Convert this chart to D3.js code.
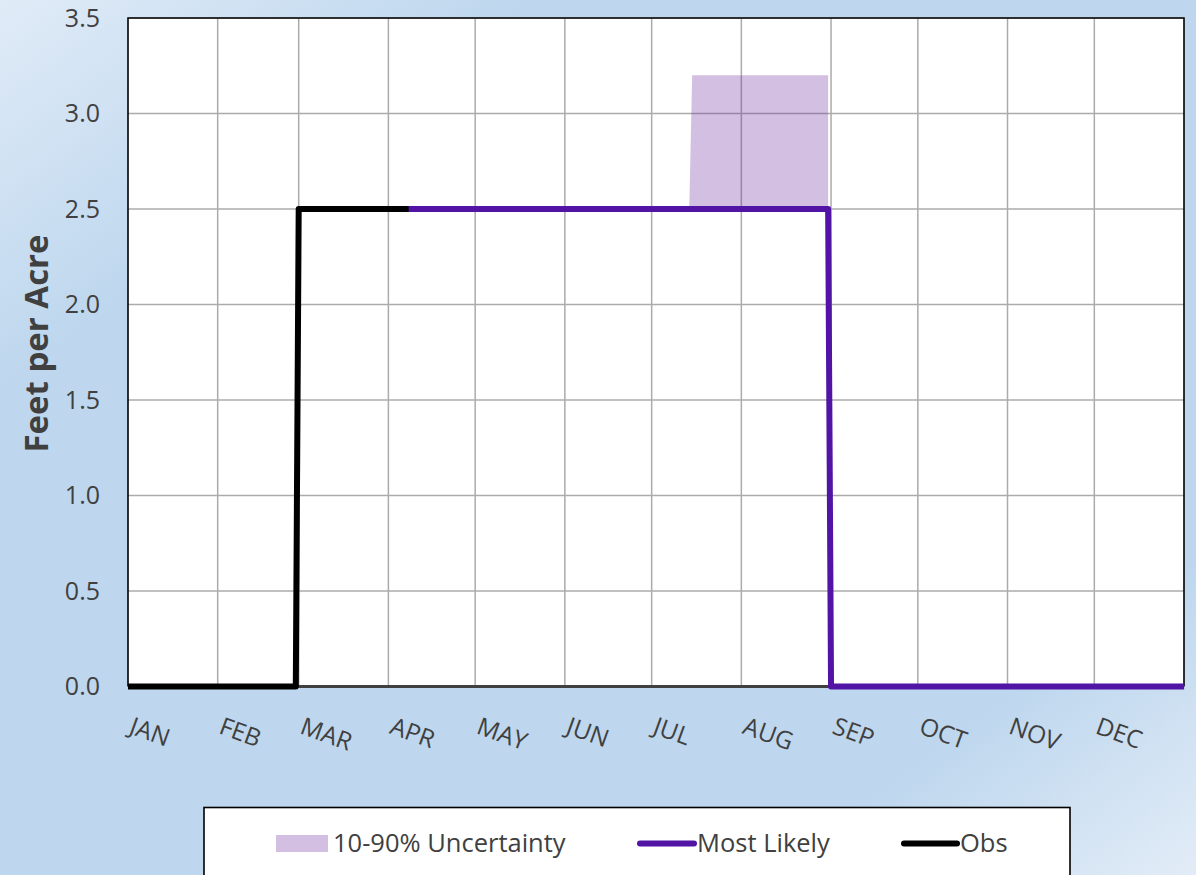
<!DOCTYPE html>
<html>
<head>
<meta charset="utf-8">
<script src="https://cdn.jsdelivr.net/npm/d3@7"></script>
<style>
  html, body { margin: 0; padding: 0; }
  body { width: 1196px; height: 875px; overflow: hidden; }
  text { font-family: "Open Sans", "Noto Sans", sans-serif; }
</style>
</head>
<body>
<svg id="chart" width="1196" height="875"></svg>
<script>
// ---- Data ----
const monthLabels = ["JAN","FEB","MAR","APR","MAY","JUN","JUL","AUG","SEP","OCT","NOV","DEC"];
const yTicks = [0, 0.5, 1.0, 1.5, 2.0, 2.5, 3.0, 3.5];

const bandDates = ["2023-07-14", "2023-07-15", "2023-08-31"];
const bandLow   = [2.5, 2.5, 2.5];
const bandHigh  = [2.5, 3.2, 3.2];

const likelyDates  = ["2023-04-08", "2023-08-31", "2023-09-01", "2023-12-31"];
const likelyValues = [2.5, 2.5, 0, 0];

const obsDates  = ["2023-01-01", "2023-02-28", "2023-03-01", "2023-04-08"];
const obsValues = [0, 0, 2.5, 2.5];

const legendItems = ["10-90% Uncertainty", "Most Likely", "Obs"];

// ---- Setup ----
const parse = d3.timeParse("%Y-%m-%d");
const W = 1196, H = 875;
const plot = { left: 128, right: 1184, top: 18, bottom: 686.5 };
const svg = d3.select("#chart");

// background gradient
const defs = svg.append("defs");
const bg = defs.append("linearGradient").attr("id", "bg")
  .attr("x1", "0%").attr("y1", "0%").attr("x2", "100%").attr("y2", "100%");
bg.append("stop").attr("offset", "0%").attr("stop-color", "#e0ebf7");
bg.append("stop").attr("offset", "22%").attr("stop-color", "#bed7ee");
bg.append("stop").attr("offset", "82%").attr("stop-color", "#bed7ee");
bg.append("stop").attr("offset", "100%").attr("stop-color", "#e2ecf7");
svg.append("rect").attr("width", W).attr("height", H).attr("fill", "url(#bg)");

const x = d3.scaleTime()
  .domain([parse("2023-01-01"), parse("2024-01-01")])
  .range([plot.left, plot.right]);
const y = d3.scaleLinear().domain([0, 3.5]).range([plot.bottom, plot.top]);

// plot area
svg.append("rect")
  .attr("x", plot.left).attr("y", plot.top)
  .attr("width", plot.right - plot.left).attr("height", plot.bottom - plot.top)
  .attr("fill", "#ffffff");

const monthStarts = d3.timeMonth.range(parse("2023-01-01"), parse("2024-01-01"));

// gridlines
const grid = svg.append("g");
grid.selectAll("line.v").data(monthStarts.slice(1)).join("line")
  .attr("x1", d => x(d)).attr("x2", d => x(d))
  .attr("y1", plot.top).attr("y2", plot.bottom)
  .attr("stroke", "#ababab").attr("stroke-width", 1.5);
grid.selectAll("line.h").data(yTicks.slice(1)).join("line")
  .attr("x1", plot.left).attr("x2", plot.right)
  .attr("y1", d => y(d)).attr("y2", d => y(d))
  .attr("stroke", "#ababab").attr("stroke-width", 1.5);

// border (top, left, right)
svg.append("path")
  .attr("d", `M${plot.left},${plot.bottom} V${plot.top} H${plot.right} V${plot.bottom}`)
  .attr("fill", "none").attr("stroke", "#000").attr("stroke-width", 1.6);

// x axis line
svg.append("line")
  .attr("x1", plot.left).attr("x2", plot.right)
  .attr("y1", y(0)).attr("y2", y(0))
  .attr("stroke", "#404040").attr("stroke-width", 3);

// band
const bandData = bandDates.map((d, i) => ({ date: parse(d), lo: bandLow[i], hi: bandHigh[i] }));
svg.append("path").datum(bandData)
  .attr("d", d3.area().x(d => x(d.date)).y0(d => y(d.lo)).y1(d => y(d.hi)))
  .attr("fill", "#7030a0").attr("fill-opacity", 0.31);

// lines
const lineGen = d3.line().x(d => x(d.date)).y(d => y(d.v));
const likelyData = likelyDates.map((d, i) => ({ date: parse(d), v: likelyValues[i] }));
const obsData = obsDates.map((d, i) => ({ date: parse(d), v: obsValues[i] }));
svg.append("path").datum(likelyData).attr("d", lineGen)
  .attr("fill", "none").attr("stroke", "#5114a5").attr("stroke-width", 6)
  .attr("stroke-linejoin", "round").attr("stroke-linecap", "square");
svg.append("path").datum(obsData).attr("d", lineGen)
  .attr("fill", "none").attr("stroke", "#000000").attr("stroke-width", 6)
  .attr("stroke-linejoin", "round").attr("stroke-linecap", "butt");

// y axis labels
const yAxis = d3.axisLeft(y).tickValues(yTicks).tickFormat(d3.format(".1f")).tickSize(0).tickPadding(28);
const gy = svg.append("g").attr("transform", `translate(${plot.left},0)`).call(yAxis);
gy.select(".domain").remove();
gy.selectAll("text").attr("font-size", 25).attr("fill", "#404040")
  .style("font-family", '"Open Sans", sans-serif');

// x axis labels (rotated)
svg.append("g").selectAll("text").data(monthStarts).join("text")
  .attr("transform", (d) => `translate(${x(d) + 0},733) rotate(20)`)
  .attr("font-size", 24.5).attr("fill", "#404040")
  .text((d, i) => monthLabels[i]);

// y title
svg.append("text")
  .attr("transform", `translate(47.5,343.5) rotate(-90)`)
  .attr("text-anchor", "middle")
  .attr("font-size", 33).attr("font-weight", "bold").attr("fill", "#404040")
  .text("Feet per Acre");

// legend
const lg = svg.append("g");
lg.append("rect").attr("x", 204).attr("y", 807.5).attr("width", 866).attr("height", 80)
  .attr("fill", "#fff").attr("stroke", "#000").attr("stroke-width", 1.6);
lg.append("rect").attr("x", 276).attr("y", 835).attr("width", 52).attr("height", 17)
  .attr("fill", "#7030a0").attr("fill-opacity", 0.31);
lg.append("text").attr("x", 333).attr("y", 852).attr("font-size", 25.5).attr("fill", "#404040").text(legendItems[0]);
lg.append("line").attr("x1", 640).attr("x2", 694).attr("y1", 843.5).attr("y2", 843.5)
  .attr("stroke", "#5114a5").attr("stroke-width", 6).attr("stroke-linecap", "round");
lg.append("text").attr("x", 697).attr("y", 852).attr("font-size", 25.5).attr("fill", "#404040").text(legendItems[1]);
lg.append("line").attr("x1", 904).attr("x2", 957).attr("y1", 843.5).attr("y2", 843.5)
  .attr("stroke", "#000", ).attr("stroke-width", 6).attr("stroke-linecap", "round");
lg.append("text").attr("x", 960).attr("y", 852).attr("font-size", 25.5).attr("fill", "#404040").text(legendItems[2]);
</script>
</body>
</html>
